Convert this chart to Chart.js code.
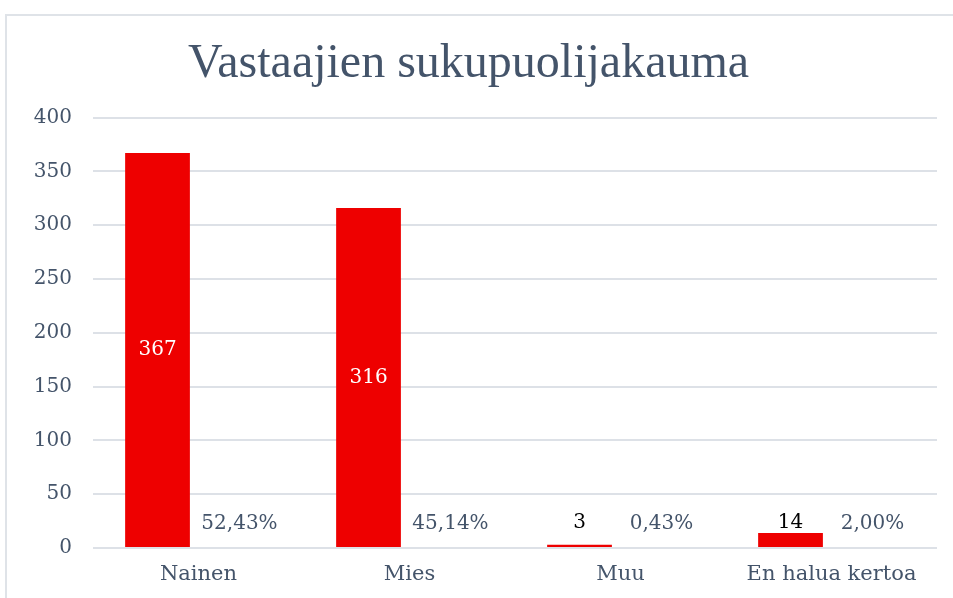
<!DOCTYPE html>
<html>
<head>
<meta charset="utf-8">
<script src="https://cdn.jsdelivr.net/npm/chart.js@4"></script>
<style>
  html, body { margin: 0; background: #fff; overflow: hidden; }
</style>
</head>
<body>
<canvas id="genderChart" width="953" height="598"></canvas>
<script>
const TEXT_COLOR = '#44546a';
const BAR_COLOR = '#ee0000';

// data
const categories = ['Nainen', 'Mies', 'Muu', 'En halua kertoa'];
const counts = [367, 316, 3, 14];
const shares = [52.43, 45.14, 0.43, 2.00];   // percent of respondents
const yTicks = [0, 50, 100, 150, 200, 250, 300, 350, 400];

const ctx = document.getElementById('genderChart').getContext('2d');

// light frame on the left and top edge, like the cropped slide
const frameLines = {
  id: 'frameLines',
  beforeDraw(chart) {
    const c = chart.ctx;
    c.save();
    c.strokeStyle = '#dfe3e8';
    c.lineWidth = 2;
    c.beginPath();
    c.moveTo(6, chart.height);
    c.lineTo(6, 15);
    c.lineTo(chart.width, 15);
    c.stroke();
    c.restore();
  }
};

// labels: count in (or above) the red bar, share next to it
const barLabels = {
  id: 'barLabels',
  afterDatasetsDraw(chart) {
    const c = chart.ctx;
    c.save();
    c.font = '20px "DejaVu Serif"';
    c.textAlign = 'center';
    c.textBaseline = 'middle';

    chart.getDatasetMeta(0).data.forEach((bar, i) => {
      const h = bar.base - bar.y;
      if (h > 40) {
        c.fillStyle = '#ffffff';
        c.fillText(counts[i], bar.x, (bar.y + bar.base) / 2);
      } else {
        c.fillStyle = '#000000';
        c.fillText(counts[i], bar.x, bar.base - 24);
      }
    });

    chart.getDatasetMeta(1).data.forEach((bar, i) => {
      c.fillStyle = TEXT_COLOR;
      const txt = shares[i].toFixed(2).replace('.', ',') + '%';
      c.fillText(txt, bar.x, bar.y - 24);
    });
    c.restore();
  }
};

const chart = new Chart(ctx, {
  type: 'bar',
  data: {
    labels: categories,
    datasets: [{
      label: 'Vastaajat',
      data: counts,
      backgroundColor: BAR_COLOR,
      borderWidth: 0,
      categoryPercentage: 0.777,
      barPercentage: 0.79
    }, {
      label: 'Osuus',
      data: shares.map(v => v / 100),
      backgroundColor: 'rgba(0,0,0,0)',
      borderWidth: 0,
      categoryPercentage: 0.777,
      barPercentage: 0.79
    }]
  },
  options: {
    responsive: false,
    animation: false,
    layout: { padding: { left: 0, right: 16, top: 0, bottom: 0 } },
    plugins: {
      legend: { display: false },
      tooltip: { enabled: false },
      title: {
        display: true,
        text: 'Vastaajien sukupuolijakauma',
        color: TEXT_COLOR,
        font: { family: '"Liberation Serif"', size: 48, weight: 'normal' },
        padding: { top: 36, bottom: 24 }
      }
    },
    scales: {
      x: {
        grid: { display: false, drawTicks: false },
        border: { display: false },
        ticks: {
          color: TEXT_COLOR,
          font: { family: '"DejaVu Serif"', size: 21 },
          padding: 14,
          maxRotation: 0
        },
        afterFit(scale) { scale.height = 50; }
      },
      y: {
        min: 0,
        max: 400,
        afterBuildTicks(scale) { scale.ticks = yTicks.map(v => ({ value: v })); },
        grid: { color: '#dde1e7', lineWidth: 2, drawTicks: false },
        border: { display: false },
        ticks: {
          color: TEXT_COLOR,
          font: { family: '"DejaVu Serif"', size: 20 },
          padding: 21
        },
        afterFit(scale) { scale.width = 93; }
      }
    }
  },
  plugins: [frameLines, barLabels]
});
</script>
</body>
</html>
